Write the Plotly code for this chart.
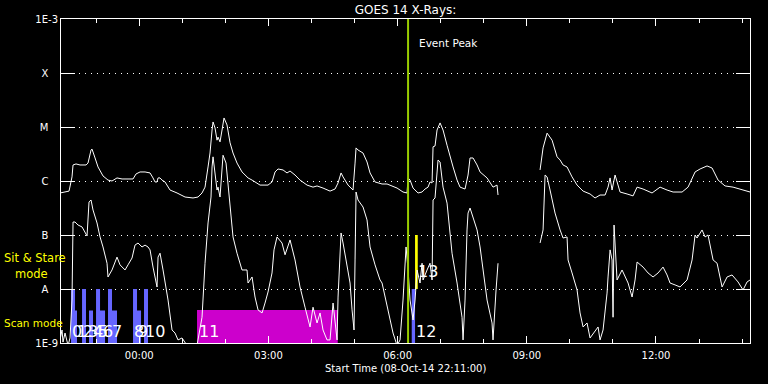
import pandas as pd
import plotly.graph_objects as go

# ---------------- data ----------------
BASE = pd.Timestamp("2014-10-09 00:00:00")          # hours below are relative to this
X_START = "2014-10-08 22:11:00"
X_END = "2014-10-09 14:11:00"

# GOES 14 long channel (1-8 A), hours after 00:00 UT and flux (W/m^2); None = data gap
long_hours = [-1.839, -1.630, -1.561, -1.537, -1.468, -1.375, -1.235, -1.189, -1.119, -1.096,
              -1.026, -0.957, -0.841, -0.725, -0.632, -0.516, -0.399, -0.260, -0.144, -0.074,
              0.019, 0.135, 0.251, 0.320, 0.367, 0.413, 0.437, 0.483, 0.529, 0.599,
              0.715, 0.878, 1.064, 1.249, 1.366, 1.458, 1.528, 1.598, 1.644, 1.691,
              1.714, 1.760, 1.807, 1.830, 1.876, 1.923, 1.969, 2.039, 2.109, 2.178,
              2.271, 2.387, 2.527, 2.620, 2.736, 2.805, 2.991, 3.084, 3.154, 3.223,
              3.340, 3.432, 3.502, 3.618, 3.734, 3.897, 4.036, 4.129, 4.268, 4.431,
              4.547, 4.617, 4.687, 4.733, 4.849, 4.965, 5.012, 5.035, 5.081, 5.197,
              5.290, 5.360, 5.476, 5.639, 5.755, 5.871, 5.987, 6.126, 6.219, 6.243,
              6.289, 6.359, 6.475, 6.568, 6.637, 6.707, 6.753, 6.800, 6.823, 6.869,
              6.916, 6.986, 7.055, 7.148, 7.218, 7.288, 7.381, 7.450, 7.566, 7.636,
              7.682, 7.752, 7.845, 7.915, 8.077, 8.216, 8.309, 8.332, 8.800, 9.308,
              9.378, 9.471, 9.587, 9.703, 9.773, 9.842, 9.935, 10.051, 10.167, 10.307,
              10.469, 10.585, 10.701, 10.818, 10.887, 10.934, 10.980, 11.050, 11.096, 11.166,
              11.328, 11.468, 11.561, 11.700, 11.909, 12.095, 12.257, 12.397, 12.606, 12.745,
              12.908, 13.024, 13.186, 13.302, 13.442, 13.604, 13.790, 13.953, 14.185]
long_flux = [6.0e-7, 6.5e-7, 1.19e-6, 1.98e-6, 2.07e-6, 1.98e-6, 1.98e-6, 2.15e-6, 3.75e-6, 3.9e-6,
             2.67e-6, 1.82e-6, 1.24e-6, 1.04e-6, 1.0e-6, 1.14e-6, 1.09e-6, 1.09e-6, 1.09e-6, 1.35e-6,
             1.47e-6, 1.47e-6, 1.41e-6, 1.14e-6, 9.6e-7, 9.6e-7, 1.14e-6, 1.14e-6, 1.04e-6, 9.6e-7,
             6.8e-7, 6.0e-7, 5.05e-7, 4.85e-7, 5.05e-7, 6.0e-7, 7.7e-7, 1.82e-6, 3.3e-6, 8.8e-6,
             1.24e-5, 9.6e-6, 5.7e-6, 6.5e-6, 5.3e-6, 8.8e-6, 1.47e-5, 1.09e-5, 5.1e-6, 3.3e-6,
             2.15e-6, 1.47e-6, 1.14e-6, 1.04e-6, 9.2e-7, 8.4e-7, 8.4e-7, 9.6e-7, 1.47e-6, 1.67e-6,
             1.6e-6, 1.41e-6, 1.53e-6, 1.29e-6, 1.04e-6, 8.4e-7, 7.7e-7, 8.1e-7, 7.4e-7, 6.5e-7,
             7.1e-7, 9.2e-7, 1.41e-6, 1.19e-6, 8.4e-7, 6.8e-7, 2.15e-6, 4.1e-6, 3.75e-6, 3.3e-6,
             2.25e-6, 1.41e-6, 9.6e-7, 8.8e-7, 8.8e-7, 8.1e-7, 7.4e-7, 6.25e-7, 6.0e-7, 1.14e-6,
             1.04e-6, 7.4e-7, 6.0e-7, 6.25e-7, 7.1e-7, 7.7e-7, 9.6e-7, 9.2e-7, 4.3e-6, 4.45e-6,
             8.8e-6, 1.19e-5, 8.8e-6, 4.6e-6, 2.8e-6, 1.82e-6, 1.04e-6, 7.7e-7, 7.1e-7, 1.29e-6,
             2.67e-6, 2.67e-6, 1.98e-6, 1.47e-6, 1.14e-6, 7.7e-7, 8.4e-7, 5.5e-7, None, 1.6e-6,
             4.1e-6, 7.7e-6, 5.7e-6, 2.8e-6, 2.45e-6, 1.98e-6, 1.82e-6, 1.19e-6, 8.4e-7, 6.5e-7,
             5.75e-7, 4.85e-7, 5.5e-7, 5.5e-7, 7.7e-7, 1.14e-6, 6.8e-7, 1.29e-6, 9.6e-7, 6.25e-7,
             5.75e-7, 5.3e-7, 7.7e-7, 7.1e-7, 6.0e-7, 7.7e-7, 6.8e-7, 6.25e-7, 6.25e-7, 7.7e-7,
             1.47e-6, 1.67e-6, 1.9e-6, 1.74e-6, 1.04e-6, 8.1e-7, 7.7e-7, 7.1e-7, 6.25e-7]

# GOES 14 short channel (0.5-4 A)
short_hours = [-1.839, -1.793, -1.770, -1.723, -1.653, -1.607, -1.561, -1.537, -1.491, -1.421,
               -1.328, -1.259, -1.212, -1.166, -1.119, -1.073, -0.980, -0.910, -0.841, -0.748,
               -0.725, -0.632, -0.516, -0.446, -0.330, -0.260, -0.167, -0.098, -0.028, 0.065,
               0.135, 0.204, 0.251, 0.320, 0.413, 0.437, 0.483, 0.553, 0.669, 0.762,
               0.831, 0.901, 0.994, 1.110, 1.342, 1.458, 1.528, 1.598, 1.667, 1.691,
               1.714, 1.807, 1.830, 1.876, 1.923, 1.946, 2.016, 2.109, 2.178, 2.271,
               2.387, 2.503, 2.527, 2.620, 2.689, 2.759, 2.852, 2.921, 2.991, 3.084,
               3.130, 3.200, 3.316, 3.386, 3.502, 3.618, 3.734, 3.850, 3.967, 4.036,
               4.129, 4.199, 4.268, 4.361, 4.431, 4.501, 4.594, 4.617, 4.687, 4.733,
               4.826, 4.896, 4.942, 4.988, 5.012, 5.035, 5.081, 5.197, 5.290, 5.360,
               5.476, 5.592, 5.639, 5.755, 5.894, 5.987, 6.057, 6.126, 6.196, 6.243,
               6.289, 6.359, 6.405, 6.452, 6.521, 6.568, 6.591, 6.684, 6.753, 6.800,
               6.823, 6.869, 6.939, 6.986, 7.055, 7.148, 7.218, 7.264, 7.381, 7.496,
               7.520, 7.566, 7.612, 7.636, 7.682, 7.845, 7.915, 8.077, 8.193, 8.216,
               8.286, 8.332, 8.800, 9.308, 9.378, 9.425, 9.471, 9.540, 9.656, 9.773,
               9.842, 9.935, 9.958, 10.051, 10.167, 10.237, 10.307, 10.399, 10.469, 10.655,
               10.701, 10.771, 10.864, 10.887, 10.934, 10.980, 11.003, 11.026, 11.050, 11.096,
               11.212, 11.282, 11.352, 11.445, 11.514, 11.561, 11.630, 11.700, 11.816, 11.932,
               12.048, 12.164, 12.257, 12.327, 12.443, 12.559, 12.722, 12.838, 12.908, 12.954,
               13.070, 13.140, 13.209, 13.326, 13.419, 13.535, 13.651, 13.767, 13.906, 14.022,
               14.115, 14.185]
short_flux = [1.14e-9, 1.74e-9, 1.04e-9, 1.53e-9, 9e-10, 1.24e-9, 6.25e-9, 1.74e-7, 1.74e-7, 1.53e-7,
              1.41e-7, 1.09e-7, 9.6e-8, 4.1e-7, 4.45e-7, 2.9e-7, 1.67e-7, 9.2e-8, 6.0e-8, 3.0e-8,
              1.67e-8, 2.25e-8, 3.9e-8, 2.8e-8, 2.25e-8, 2.8e-8, 3.75e-8, 6.5e-8, 7.1e-8, 6.0e-8,
              6.5e-8, 6.0e-8, 5.3e-8, 2.55e-8, 1.09e-8, 3.9e-8, 4.6e-8, 2.25e-8, 6.25e-9, 1.74e-9,
              1.53e-9, 1.14e-9, 1.24e-9, 9e-10, 9e-10, 3.0e-9, 3.0e-8, 1.67e-7, 5.05e-7, 1.82e-6,
              2.8e-6, 6.8e-7, 7.7e-7, 5.05e-7, 1.82e-6, 3.0e-6, 2.15e-6, 2.9e-7, 9.2e-8, 4.6e-8,
              2.25e-8, 2.25e-8, 1.29e-8, 1.67e-8, 7.1e-9, 4.1e-9, 3.6e-9, 5.5e-9, 8.8e-9, 1.98e-8,
              5.3e-8, 9.2e-8, 7.1e-8, 4.3e-8, 8.1e-8, 3.45e-8, 1.09e-8, 4.6e-9, 1.98e-9, 4.6e-9,
              2.35e-9, 3.6e-9, 1.74e-9, 1.14e-9, 1.14e-9, 5.5e-9, 1.14e-9, 7.1e-9, 1.09e-7, 7.1e-8,
              2.55e-8, 1.29e-8, 4.1e-9, 1.74e-9, 3.45e-8, 6.25e-7, 4.45e-7, 3.3e-7, 1.9e-7, 6.0e-8,
              2.8e-8, 1.47e-8, 1.29e-8, 4.6e-9, 1.53e-9, 9e-10, 1.14e-9, 6.25e-9, 6.0e-8, 2.25e-8,
              6.25e-9, 2.67e-9, 6.25e-9, 2.25e-8, 1.29e-8, 3.0e-8, 1.47e-8, 2.25e-8, 3.0e-8, 1.47e-8,
              4.45e-7, 4.85e-7, 2.45e-6, 2.25e-6, 7.7e-7, 3.9e-7, 1.24e-7, 4.6e-8, 1.29e-8, 3.0e-9,
              1.14e-9, 6.25e-9, 1.24e-7, 2.55e-7, 3.16e-7, 1.24e-7, 6.0e-8, 6.25e-9, 2.35e-9, 1.14e-9,
              9.6e-9, 3.0e-8, None, 7.1e-8, 1.24e-7, 1.29e-6, 1.19e-6, 6.8e-7, 2.55e-7, 1.24e-7,
              8.8e-8, 9.2e-8, 3.45e-8, 1.98e-8, 9.6e-9, 3.6e-9, 1.98e-9, 2.35e-9, 1.24e-9, 1.98e-9,
              1.14e-9, 1.74e-9, 8.4e-9, 1.67e-8, 5.3e-8, 3.45e-8, 3.0e-9, 1.53e-7, 5.3e-8, 1.47e-8,
              2.25e-8, 1.67e-8, 1.29e-8, 7.1e-9, 1.47e-8, 3.16e-8, 2.8e-8, 2.55e-8, 1.98e-8, 1.67e-8,
              1.98e-8, 2.55e-8, 1.82e-8, 1.29e-8, 1.19e-8, 1.09e-8, 1.47e-8, 3.45e-8, 1.0e-7, 8.8e-8,
              1.24e-7, 9.2e-8, 1.0e-7, 3.45e-8, 3.0e-8, 1.09e-8, 1.67e-8, 1.82e-8, 1.35e-8, 9.6e-9,
              1.35e-8, 1.47e-8]

# Observations: scan-mode rasters (start, end hours, top flux level)
scan_start = [-1.584, -1.491, -1.328, -1.166, -1.003, -0.910, -0.725, -0.632, -0.144, -0.051, 0.111, 6.328]
scan_end = [-1.491, -1.445, -1.236, -1.073, -0.910, -0.794, -0.632, -0.516, -0.051, 0.042, 0.204, 6.405]
scan_top = [1e-8, 4e-9, 1e-8, 4e-9, 1e-8, 4e-9, 1e-8, 4e-9, 1e-8, 4e-9, 1e-8, 1e-8]
long_scan_start = [1.342]
long_scan_end = [4.610]
long_scan_top = [4.1e-9]
stare_start = [6.405]
stare_end = [6.468]
stare_bottom = [1e-8]
stare_top = [1e-7]
FLUX_FLOOR = 1e-9

scan_labels = ["0", "1", "2", "3", "4", "5", "6", "7", "8", "9", "10", "11", "12"]
scan_label_hours = [-1.561, -1.445, -1.305, -1.189, -1.073, -0.957, -0.841, -0.632, -0.121, -0.028, 0.135,
                    1.389, 6.428]
scan_label_flux = 1.53e-9
stare_labels = ["13"]
stare_label_hours = [6.475]
stare_label_flux = 1.98e-8

event_peak_hours = 6.243

ytick_vals = [1e-3, 1e-4, 1e-5, 1e-6, 1e-7, 1e-8, 1e-9]
ytick_text = ["1E-3", "X", "M", "C", "B", "A", "1E-9"]

assert len(long_hours) == len(long_flux), (len(long_hours), len(long_flux))
assert len(short_hours) == len(short_flux), (len(short_hours), len(short_flux))


def to_time(hours):
    return [BASE + pd.Timedelta(hours=h) for h in hours]


def rect_paths(starts, ends, bottoms, tops):
    xs, ys = [], []
    for s, e, b, t in zip(starts, ends, bottoms, tops):
        ts, te = to_time([s, e])
        xs += [ts, ts, te, te, ts, None]
        ys += [b, t, t, b, b, None]
    return xs, ys


WHITE = "#ffffff"
FONT = "DejaVu Sans"
NUMFONT = "Liberation Sans Narrow, DejaVu Sans"

fig = go.Figure()

# scan-mode bars (blue)
sx, sy = rect_paths(scan_start, scan_end, [FLUX_FLOOR] * len(scan_start), scan_top)
fig.add_trace(go.Scatter(x=sx, y=sy, mode="lines", fill="toself", fillcolor="#6666ff",
                         line=dict(width=0), hoverinfo="skip", showlegend=False))
# long scan (magenta)
mx, my = rect_paths(long_scan_start, long_scan_end, [FLUX_FLOOR], long_scan_top)
fig.add_trace(go.Scatter(x=mx, y=my, mode="lines", fill="toself", fillcolor="#cc00cc",
                         line=dict(width=0), hoverinfo="skip", showlegend=False))
# sit & stare (yellow)
yx, yy = rect_paths(stare_start, stare_end, stare_bottom, stare_top)
fig.add_trace(go.Scatter(x=yx, y=yy, mode="lines", fill="toself", fillcolor="#ffff00",
                         line=dict(width=0), hoverinfo="skip", showlegend=False))

# X-ray curves
fig.add_trace(go.Scatter(x=to_time(long_hours), y=long_flux, mode="lines",
                         line=dict(color=WHITE, width=1), showlegend=False, connectgaps=False))
fig.add_trace(go.Scatter(x=to_time(short_hours), y=short_flux, mode="lines",
                         line=dict(color=WHITE, width=1), showlegend=False, connectgaps=False))

# event peak line
tp = to_time([event_peak_hours])[0]
fig.add_trace(go.Scatter(x=[tp, tp], y=[1e-9, 1e-3], mode="lines",
                         line=dict(color="#99cc00", width=2), showlegend=False))

# observation number labels
fig.add_trace(go.Scatter(x=to_time(scan_label_hours), y=[scan_label_flux] * len(scan_labels),
                         mode="text", text=scan_labels, textposition="middle right",
                         textfont=dict(family=NUMFONT, size=16, color=WHITE),
                         showlegend=False))
fig.add_trace(go.Scatter(x=to_time(stare_label_hours), y=[stare_label_flux] * len(stare_labels),
                         mode="text", text=stare_labels, textposition="middle right",
                         textfont=dict(family=NUMFONT, size=16, color=WHITE),
                         showlegend=False))

fig.add_annotation(x=tp, y=-3.444, xref="x", yref="y", text="Event Peak", showarrow=False,
                   xanchor="left", yanchor="middle", xshift=9,
                   font=dict(family=FONT, size=10.5, color=WHITE))

# mode labels (yellow)
fig.add_annotation(x=-0.0856, y=-7.426, xref="paper", yref="y", text="Sit & Stare", showarrow=False,
                   xanchor="left", yanchor="middle", font=dict(family=FONT, size=11.5, color="#ffff00"))
fig.add_annotation(x=-0.0697, y=-7.72, xref="paper", yref="y", text="mode", showarrow=False,
                   xanchor="left", yanchor="middle", font=dict(family=FONT, size=11.5, color="#ffff00"))
fig.add_annotation(x=-0.0856, y=-8.63, xref="paper", yref="y", text="Scan mode", showarrow=False,
                   xanchor="left", yanchor="middle", font=dict(family=FONT, size=10.5, color="#ffff00"))

# x-axis caption
fig.add_annotation(x=0.5, y=-0.0787, xref="paper", yref="paper",
                   text="Start Time (08-Oct-14 22:11:00)", showarrow=False,
                   xanchor="center", yanchor="middle", font=dict(family=FONT, size=10, color=WHITE))

fig.update_layout(
    width=768, height=384,
    margin=dict(l=61, r=18, t=19, b=41),
    paper_bgcolor="#000000", plot_bgcolor="#000000",
    title=dict(text="GOES 14 X-Rays:", x=0.5, xref="paper", y=0.975, yref="container",
               xanchor="center", yanchor="middle", font=dict(family=FONT, size=12, color=WHITE)),
    font=dict(family=FONT, size=10, color=WHITE),
    showlegend=False,
)
fig.update_xaxes(
    type="date", range=[X_START, X_END],
    tick0="2014-10-09 00:00:00", dtick=3 * 3600000, tickformat="%H:%M",
    ticks="inside", ticklen=7, tickcolor=WHITE, tickwidth=1,
    minor=dict(dtick=3600000, tick0="2014-10-09 00:00:00", ticks="inside", ticklen=4,
               tickcolor=WHITE, showgrid=False),
    showline=True, linecolor=WHITE, linewidth=1, mirror="allticks",
    showgrid=False, zeroline=False, ticklabelstandoff=3,
    tickfont=dict(family=FONT, size=10, color=WHITE),
)
fig.update_yaxes(
    type="log", range=[-9, -3],
    tickvals=ytick_vals,
    ticktext=[t if len(t) > 1 else t + "\u00a0\u00a0\u00a0" for t in ytick_text],
    ticks="inside", ticklen=14, tickcolor=WHITE, tickwidth=1,
    showline=True, linecolor=WHITE, linewidth=1, mirror="allticks",
    showgrid=True, gridcolor=WHITE, gridwidth=1, griddash="1px,5px",
    zeroline=False,
    tickfont=dict(family=FONT, size=10, color=WHITE),
)

fig.write_html("out.html")
